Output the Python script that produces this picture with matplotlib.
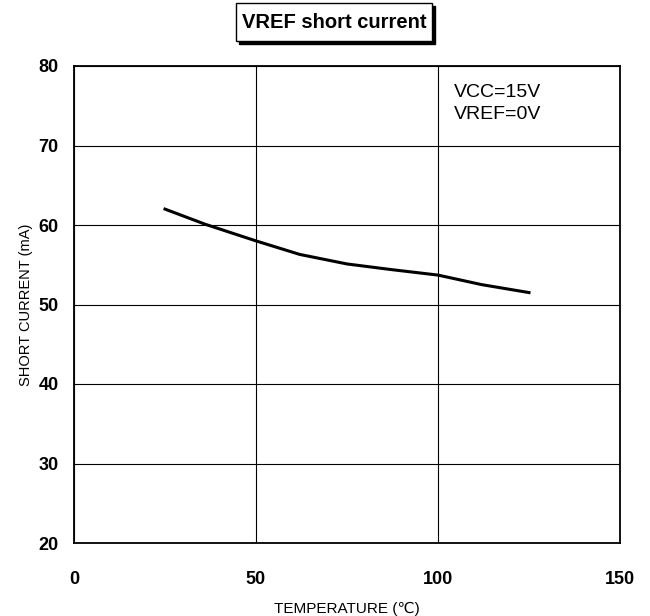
import matplotlib
matplotlib.use("Agg")
import matplotlib.pyplot as plt
from matplotlib.patches import Rectangle

temperature = [25, 36, 50, 62, 75, 87, 100, 112, 125]
short_current = [62.0, 60.1, 58.0, 56.3, 55.1, 54.4, 53.7, 52.5, 51.5]
x_ticks = [0, 50, 100, 150]
y_ticks = [20, 30, 40, 50, 60, 70, 80]

plt.rcParams['font.family'] = ['Liberation Sans', 'DejaVu Sans']

W, H = 650, 616
fig = plt.figure(figsize=(W / 100, H / 100), dpi=100)
ax = fig.add_axes([74 / W, 1 - 543 / H, 546 / W, 477 / H])

ax.plot(temperature, short_current, color='black', linewidth=2.2)
ax.set_xlim(0, 150)
ax.set_ylim(20, 80)
ax.set_xticks(x_ticks)
ax.set_yticks(y_ticks)
ax.grid(True, color='black', linewidth=0.8)
ax.tick_params(length=0, labelsize=13)
ax.tick_params(axis='x', pad=20)
ax.tick_params(axis='y', pad=11)
for lab in ax.get_xticklabels() + ax.get_yticklabels():
    lab.set_fontweight('bold')
for s in ax.spines.values():
    s.set_linewidth(1.3)
    s.set_color('black')

ax.set_xlabel('TEMPERATURE (\u2103)', fontsize=11, labelpad=10)
ax.set_ylabel('SHORT CURRENT (mA)', fontsize=10.5, labelpad=4)

ax.text(0.695, 0.962, 'VCC=15V\nVREF=0V', transform=ax.transAxes,
        fontsize=14, ha='left', va='top', linespacing=1.35)

# title box with shadow
x0, y0, x1, y1 = 236, 3, 432, 41
fig.patches.append(Rectangle(((x0 + 3) / W, 1 - (y1 + 3) / H), (x1 - x0) / W, (y1 - y0) / H,
                             transform=fig.transFigure, facecolor='black', edgecolor='black'))
fig.patches.append(Rectangle((x0 / W, 1 - y1 / H), (x1 - x0) / W, (y1 - y0) / H,
                             transform=fig.transFigure, facecolor='white', edgecolor='black',
                             linewidth=1.0))
fig.text((x0 + x1) / 2 / W, 1 - 22 / H, 'VREF short current', fontsize=14.5,
         fontweight='bold', ha='center', va='center')

fig.savefig('out.png', dpi=100)
